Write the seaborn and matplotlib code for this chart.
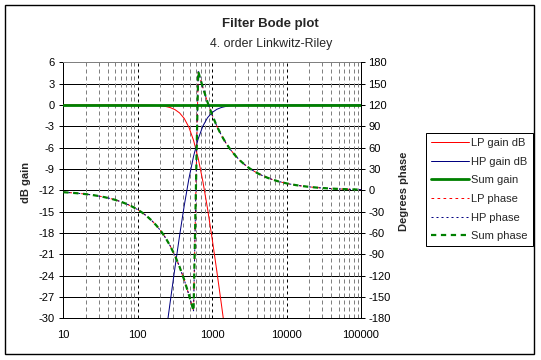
import numpy as np
import pandas as pd
import matplotlib
matplotlib.use('Agg')
import matplotlib.pyplot as plt
import seaborn as sns
from matplotlib.ticker import LogLocator, FixedLocator, FixedFormatter, NullFormatter
from matplotlib.lines import Line2D
from matplotlib.patches import Rectangle

# ---------------- data ----------------
freq = [10, 11.55, 13.34, 15.40, 17.78, 20.54, 23.71, 27.38, 31.62, 36.52, 42.17, 48.70, 56.23, 64.94, 74.99, 86.60,
        100, 115.5, 133.4, 154.0, 177.8, 205.4, 237.1, 273.8, 316.2, 365.2, 421.7, 487.0, 562.3, 649.4, 749.9, 866.0,
        1000, 1155, 1334, 1540, 1778, 2054, 2371, 2738, 3162, 3652, 4217, 4870, 5623, 6494, 7499, 8660,
        10000, 11548, 13335, 15399, 17783, 20535, 23714, 27384, 31623, 36517, 42170, 48697, 56234, 64938, 74989, 86596,
        100000]

nan = float('nan')
lp_gain = [0.0] * 16 + [-0.01, -0.01, -0.02, -0.04, -0.07, -0.12, -0.21, -0.37, -0.65, -1.12, -1.90, -3.13,
                        -4.97, -7.50, -10.73, -14.55, -18.81, -23.36, -28.10, -32.95] + [nan] * 29
hp_gain = [nan] * 22 + [-32.46, -27.62, -22.90, -18.37, -14.15, -10.38, -7.22, -4.76, -2.98, -1.80, -1.06,
                        -0.61, -0.35, -0.20, -0.11, -0.06, -0.04, -0.02, -0.01] + [0.0] * 24
sum_gain = [0.0] * 65

lp_phase = [-2.70, -3.12, -3.60, -4.16, -4.80, -5.55, -6.41, -7.40, -8.55, -9.88, -11.41, -13.18, -15.23, -17.61,
            -20.36, -23.55, -27.26,
            -31.57, -36.59, -42.47, -49.37, -57.48, -67.05, -78.39, -91.81, -107.64, -126.04, -146.88, -169.51,
            167.22, 144.72, 124.10, 105.94,
            90.37, 77.16, 66.02, 56.60, 48.62, 41.84, 36.05, 31.11, 26.86, 23.21, 20.07, 17.36, 15.02, 12.99,
            11.25, 9.73,
            8.43, 7.30, 6.32, 5.47, 4.74, 4.10, 3.55, 3.08, 2.66, 2.31, 2.00, 1.73, 1.50, 1.30, 1.12, 0.97]
hp_phase = list(lp_phase)
sum_phase = list(lp_phase)

gain_ticks = [6, 3, 0, -3, -6, -9, -12, -15, -18, -21, -24, -27, -30]
phase_ticks = [180, 150, 120, 90, 60, 30, 0, -30, -60, -90, -120, -150, -180]
x_ticks = [10, 100, 1000, 10000, 100000]
x_tick_labels = ['10', '100', '1000', '10000', '100000']

df = pd.DataFrame({'freq': freq, 'lp_gain': lp_gain, 'hp_gain': hp_gain, 'sum_gain': sum_gain,
                   'lp_phase': lp_phase, 'hp_phase': hp_phase, 'sum_phase': sum_phase})

# ---------------- style ----------------
sns.set_style('white')
plt.rcParams['font.family'] = ['Liberation Sans', 'DejaVu Sans']
plt.rcParams['axes.unicode_minus'] = False

W, H = 541, 360
fig = plt.figure(figsize=(W / 100, H / 100), dpi=100)
fig.patch.set_facecolor('white')

def fx(px):
    return px / W

def fy(py):
    return 1 - py / H

px2pt = 0.72
FS = 8.0
x0, x1, y0, y1 = 63.3, 361.0, 62.3, 318.3
ax = fig.add_axes([fx(x0), fy(y1), fx(x1 - x0), (y1 - y0) / H])
ax.set_facecolor('white')
ax.set_xscale('log')
ax.set_xlim(10, 100000)
ax.set_ylim(-30, 6)

# grid
ax.xaxis.set_major_locator(FixedLocator(x_ticks))
ax.xaxis.set_major_formatter(FixedFormatter(x_tick_labels))
ax.xaxis.set_minor_locator(LogLocator(base=10, subs=[2, 3, 4, 5, 6, 7, 8, 9]))
ax.xaxis.set_minor_formatter(NullFormatter())
ax.grid(True, which='minor', axis='x', color='#808080', linestyle=(0, (4, 3)), linewidth=1 * px2pt, zorder=0)
ax.grid(True, which='major', axis='x', color='black', linestyle=(0, (3, 3)), linewidth=1 * px2pt, zorder=0)
for v in gain_ticks[1:-1]:
    ax.axhline(v, color='black', linewidth=1 * px2pt, zorder=0.5)
ax.set_axisbelow(True)

ax.set_yticks(gain_ticks)
ax.set_yticklabels([str(v) for v in gain_ticks])

# gain lines
sns.lineplot(data=df, x='freq', y='lp_gain', ax=ax, color='#FF0000', linewidth=1 * px2pt,
             estimator=None, sort=False, label='LP gain dB', legend=False, zorder=3)
sns.lineplot(data=df, x='freq', y='hp_gain', ax=ax, color='#000080', linewidth=1 * px2pt,
             estimator=None, sort=False, label='HP gain dB', legend=False, zorder=3)
sns.lineplot(data=df, x='freq', y='sum_gain', ax=ax, color='#008000', linewidth=2.8 * px2pt,
             estimator=None, sort=False, label='Sum gain', legend=False, zorder=4)
ax.set_ylim(-30, 6)
ax.set_xlim(10, 100000)

# phase axis
ax2 = ax.twinx()
ax2.set_ylim(-180, 180)
sns.lineplot(data=df, x='freq', y='lp_phase', ax=ax2, color='#FF0000', linewidth=1 * px2pt,
             estimator=None, sort=False, legend=False, zorder=3)
ax2.lines[-1].set_dashes([2.7, 3.3])
sns.lineplot(data=df, x='freq', y='hp_phase', ax=ax2, color='#000080', linewidth=1 * px2pt,
             estimator=None, sort=False, legend=False, zorder=3)
ax2.lines[-1].set_dashes([2.0, 3.0])
sns.lineplot(data=df, x='freq', y='sum_phase', ax=ax2, color='#008000', linewidth=2.2 * px2pt,
             estimator=None, sort=False, legend=False, zorder=4)
ax2.lines[-1].set_dashes([2.4, 2.1])
ax2.set_ylim(-180, 180)
ax2.set_xlim(10, 100000)
ax2.set_yticks(phase_ticks)
ax2.set_yticklabels([str(v) for v in phase_ticks])

# spines
for s in ['left', 'bottom']:
    ax.spines[s].set_color('black')
    ax.spines[s].set_linewidth(1 * px2pt)
ax.spines['top'].set_color('#808080')
ax.spines['top'].set_linewidth(1 * px2pt)
ax.spines['right'].set_visible(False)
for s in ['left', 'bottom', 'top']:
    ax2.spines[s].set_visible(False)
ax2.spines['right'].set_color('black')
ax2.spines['right'].set_linewidth(1 * px2pt)

ax.tick_params(axis='both', which='major', direction='out', length=4 * px2pt, width=1 * px2pt,
               color='black', labelsize=FS, labelcolor='black')
ax.tick_params(axis='y', which='major', pad=3.2)
ax.tick_params(axis='x', which='major', pad=5.2)
ax.tick_params(axis='x', which='minor', length=0)
ax2.tick_params(axis='y', which='major', direction='out', length=4 * px2pt, width=1 * px2pt,
                color='black', labelsize=FS, labelcolor='black', pad=2.4)
ax2.tick_params(axis='y', which='minor', length=0)
ax2.tick_params(axis='x', which='both', length=0)

ax.set_xlabel('')
ax.set_ylabel('dB gain', fontsize=FS, fontweight='bold')
ax.yaxis.set_label_coords((31 - x0) / (x1 - x0), (y1 - 182) / (y1 - y0))
ax2.set_ylabel('Degrees phase', fontsize=FS, fontweight='bold')
ax2.yaxis.set_label_coords((399 - x0) / (x1 - x0), (y1 - 191) / (y1 - y0))

# titles
fig.text(fx(270), fy(24), 'Filter Bode plot', ha='center', va='center', fontsize=9.5, fontweight='bold')
fig.text(fx(271), fy(44), '4. order Linkwitz-Riley', ha='center', va='center', fontsize=8.9)

# legend
handles = [
    Line2D([], [], color='#FF0000', linewidth=1 * px2pt),
    Line2D([], [], color='#000080', linewidth=1 * px2pt),
    Line2D([], [], color='#008000', linewidth=2.8 * px2pt),
    Line2D([], [], color='#FF0000', linewidth=1 * px2pt, dashes=[2.7, 3.3]),
    Line2D([], [], color='#000080', linewidth=1 * px2pt, dashes=[2.0, 3.0]),
    Line2D([], [], color='#008000', linewidth=2.2 * px2pt, dashes=[2.4, 2.1]),
]
labels = ['LP gain dB', 'HP gain dB', 'Sum gain', 'LP phase', 'HP phase', 'Sum phase']
leg = fig.legend(handles, labels, loc='upper left', bbox_to_anchor=(fx(426), fy(133)),
                 bbox_transform=fig.transFigure, fontsize=FS, frameon=True, fancybox=False,
                 shadow=False, framealpha=1, edgecolor='black', handlelength=3.4,
                 handletextpad=0.2, labelspacing=0.78, borderpad=0.45, borderaxespad=0)
leg.get_frame().set_linewidth(1 * px2pt)

# chart frame
fig.patches.append(Rectangle((fx(5), fy(353.5)), fx(534.3 - 5), (353.5 - 5.3) / H, transform=fig.transFigure,
                             fill=False, edgecolor='black', linewidth=1.4 * px2pt, zorder=10))

fig.savefig('out.png', dpi=100, facecolor='white')
